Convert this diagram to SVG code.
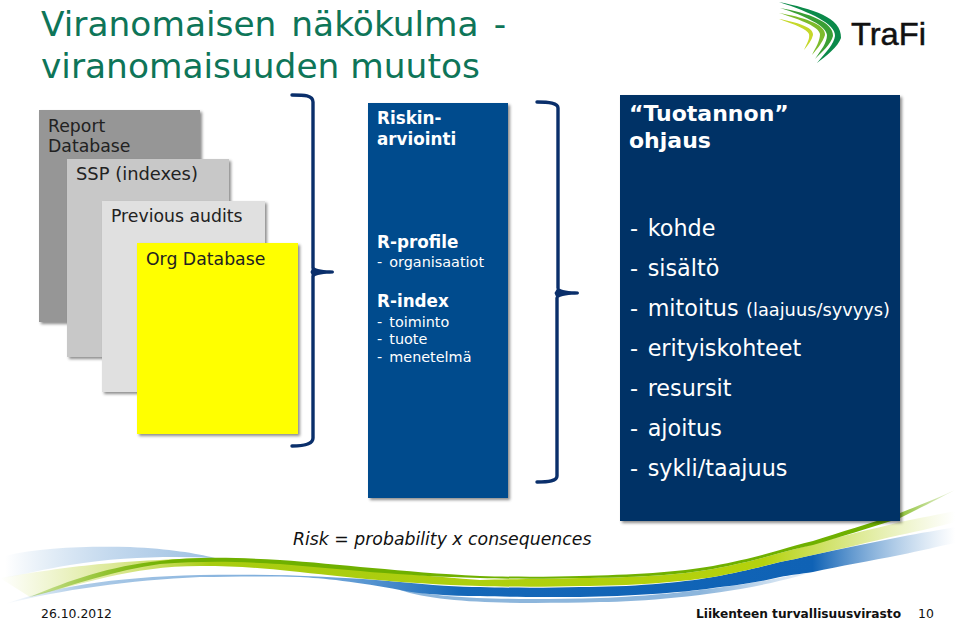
<svg xmlns="http://www.w3.org/2000/svg" width="960" height="620" viewBox="0 0 960 620">
<style>
text{font-family:"DejaVu Sans",Verdana,sans-serif}
.t{font-size:34.4px;fill:#0e7558}
.g{font-size:17.3px;fill:#222}
.bh{font-size:16.8px;font-weight:bold;fill:#fff}
.bs{font-size:14.4px;fill:#fff;word-spacing:2.5px}
.dh{font-size:22px;font-weight:bold;fill:#fff}
.dl{font-size:22.3px;fill:#fff;word-spacing:2.5px}
.ft{font-size:12.4px;fill:#111}
.br{fill:none;stroke:#0a2f6b;stroke-width:3.4;stroke-linecap:round;stroke-linejoin:round}
.tip{fill:#0a2f6b}
.f{filter:url(#s)}
</style>
<defs>
<filter id="s" x="-5%" y="-5%" width="115%" height="115%"><feDropShadow dx="2" dy="2" stdDeviation="1.6" flood-color="#000" flood-opacity=".45"/></filter>
<linearGradient id="gb" x1="0" x2="1" y1="0" y2="0"><stop offset="0" stop-color="#6aa0d4" stop-opacity="0"/><stop offset=".08" stop-color="#6aa0d4" stop-opacity=".55"/><stop offset=".35" stop-color="#6ca3d8"/><stop offset=".48" stop-color="#1467b8"/><stop offset=".85" stop-color="#0f62b5"/><stop offset="1" stop-color="#6aa0d4" stop-opacity="0"/></linearGradient>
<linearGradient id="gl" x1="0" x2="1" y1="0" y2="0"><stop offset="0" stop-color="#c4d94e" stop-opacity="0"/><stop offset=".12" stop-color="#c4d94e" stop-opacity=".6"/><stop offset=".22" stop-color="#a8cc10"/><stop offset=".8" stop-color="#b5d20c"/><stop offset="1" stop-color="#c4d94e" stop-opacity="0"/></linearGradient>
<linearGradient id="gd" x1="0" x2="1" y1="0" y2="0"><stop offset="0" stop-color="#6fb000" stop-opacity=".3"/><stop offset=".15" stop-color="#6fb000"/><stop offset=".92" stop-color="#6fb000"/><stop offset="1" stop-color="#6fb000" stop-opacity=".1"/></linearGradient>
<linearGradient id="gp" x1="0" x2="1" y1="0" y2="0"><stop offset="0" stop-color="#b8d2ea" stop-opacity="0"/><stop offset=".5" stop-color="#c4d9ee"/><stop offset="1" stop-color="#9dc0e2"/></linearGradient>
<linearGradient id="gu" x1="0" x2="1" y1="0" y2="0"><stop offset="0" stop-color="#8db6dc"/><stop offset=".7" stop-color="#8db6dc"/><stop offset="1" stop-color="#8db6dc" stop-opacity="0"/></linearGradient>
</defs>
<g id="swoosh">
<path d="M5 556C40 547 90 546 130 547C170 549 195 553 215 558C170 556 120 557 70 565C45 569 25 574 5 578Z" fill="url(#gp)"/>
<path d="M400 588C440 600 520 600 600 598C660 596 760 586 830 566C760 592 660 601 600 602C520 604 440 604 400 590Z" fill="url(#gu)"/>
<path d="M5 604C50 588 110 577 200 575C260 574 320 575 400 582C430 585 460 587 480 587C510 588 550 588 580 587C630 587 680 583 713 577C740 572 760 567 780 562C790 560 800 558 813 555C840 549 870 543 900 537C920 533 940 530 955 527V543C940 546 920 551 900 555C870 561 840 566 813 572C800 574 790 575 780 577C760 582 740 585 713 588C680 593 630 596 580 597C550 597 510 597 480 596C450 596 420 594 400 590C360 582 320 578 300 577C260 576 230 577 200 577C130 580 60 590 5 604Z" fill="url(#gb)"/>
<path d="M0 578C60 568 110 560 220 558C300 560 370 572 480 580C510 579 550 579 580 578C630 578 680 575 713 569C740 564 760 559 780 553C790 550 800 548 813 544C840 536 870 530 900 522C920 518 940 514 955 511V522C940 526 920 531 900 535C870 542 840 549 813 555C800 558 790 560 780 562C760 567 740 572 713 577C680 582 630 586 580 586C550 587 510 587 480 586C400 584 330 575 280 570C250 567 230 566 200 566C130 566 80 585 30 597Z" fill="url(#gl)"/>
<path d="M30 597C70 580 110 566 160 561C190 557 230 557 280 560C340 564 400 572 480 576C510 577 550 577 580 576C630 575 680 572 713 566C740 561 760 556 780 550C790 547 800 544 813 541C840 532 870 524 900 513C920 505 940 497 955 490C940 498 920 508 900 518C870 528 840 537 813 545C800 548 790 550 780 553C760 559 740 564 713 569C680 575 630 578 580 578C550 579 510 579 480 578C400 576 340 569 280 564C230 561 200 561 160 564C115 570 75 585 30 597Z" fill="url(#gd)"/>
</g>
<g id="title"><text class="t" x="41" y="36" style="word-spacing:4px">Viranomaisen näkökulma -</text><text class="t" x="41" y="78">viranomaisuuden muutos</text></g>
<g id="logo">
<path d="M779 2C812 9 842 17 841 38C838 47 826 56 817 63C826 52 834 44 835 36C836 24 810 12 779 2Z" fill="#0b8a4a"/>
<path d="M780 8C808 13 834 22 833 36C831 44 822 52 815 59C821 50 827 43 827 35C826 26 806 16 780 8Z" fill="#3a9f35"/>
<path d="M779 13C802 17 826 24 825 35C823 42 817 49 812 55C816 47 820 41 820 34C819 27 802 20 779 13Z" fill="#7dbb2c"/>
<path d="M779 19C796 22 814 27 813 35C812 40 808 45 804 50C807 43 810 39 809 34C807 29 796 25 779 19Z" fill="#c6d82a"/>
<text x="851" y="45" font-size="32" stroke="#111" stroke-width=".5" fill="#111" style="font-family:'Liberation Sans',sans-serif" textLength="75" lengthAdjust="spacingAndGlyphs">TraFi</text>
</g>
<g id="report"><rect class="f" x="39" y="110" width="161" height="212" fill="#969696"/><text class="g" x="48" y="132">Report</text><text class="g" x="48" y="152">Database</text></g>
<g id="ssp"><rect class="f" x="67" y="159" width="162" height="198" fill="#c8c8c8"/><text class="g" x="76" y="180" style="font-size:17.9px">SSP (indexes)</text></g>
<g id="audits"><rect class="f" x="102" y="201" width="163" height="191" fill="#e0e0e0"/><text class="g" x="111" y="222">Previous audits</text></g>
<g id="org"><rect class="f" x="137" y="243" width="161" height="191" fill="#ff0"/><text class="g" x="146" y="265">Org Database</text></g>
<g id="riskin"><rect class="f" x="368" y="103" width="140" height="395" fill="#004b8d"/>
<text class="bh" x="377" y="124">Riskin-</text><text class="bh" x="377" y="145">arviointi</text>
<text class="bh" x="377" y="248">R-profile</text><text class="bs" x="377" y="267">- organisaatiot</text>
<text class="bh" x="377" y="307">R-index</text><text class="bs" x="377" y="327">- toiminto</text><text class="bs" x="377" y="344">- tuote</text><text class="bs" x="377" y="362">- menetelmä</text></g>
<g id="ohjaus"><rect class="f" x="620" y="95" width="280" height="426" fill="#003366"/>
<text class="dh" x="629" y="121">“Tuotannon”</text><text class="dh" x="629" y="148">ohjaus</text>
<text class="dl" x="630" y="236">- kohde</text><text class="dl" x="630" y="276">- sisältö</text>
<text class="dl" x="630" y="316">- mitoitus <tspan x="746" font-size="17.8">(laajuus/syvyys)</tspan></text>
<text class="dl" x="630" y="356">- erityiskohteet</text><text class="dl" x="630" y="396">- resursit</text><text class="dl" x="630" y="436">- ajoitus</text><text class="dl" x="630" y="476">- sykli/taajuus</text></g>
<g id="connectors">
<path class="br" d="M292 95C304 95 313 95 313 102V268M313 276V438C313 444 304 446 292 446"/>
<path class="tip" d="M313 266C315 270 325 270 333 270.500Q335 272 333 273.500C325 274 315 274 313 278L310.500 272Z"/>
<path class="br" d="M537 102C549 102 558 103 558 108V288M557 298V476C557 481 549 482 537 482"/>
<path class="tip" d="M558 287C560 291 570 291 578 291.500Q580 293 578 294.500C570 295 560 295 557 299L554.500 293Z"/>
</g>
<text id="risk" x="293" y="545" font-size="17.3" font-style="italic" fill="#111">Risk = probability x consequences</text>
<g id="footer"><text class="ft" x="41" y="618">26.10.2012</text><text class="ft" x="696" y="618" font-weight="bold" style="font-size:12.2px">Liikenteen turvallisuusvirasto</text><text class="ft" x="918" y="618">10</text></g>
</svg>
